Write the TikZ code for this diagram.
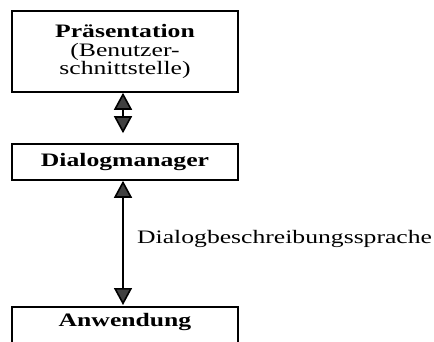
\documentclass[tikz,border=0pt]{standalone}
\usepackage{fontspec}
\setmainfont[FakeStretch=1.35]{Liberation Serif}
\usetikzlibrary{arrows.meta}
\tikzset{
  layer/.style={draw=black, line width=1.6pt, minimum width=226pt, align=center,
    font=\fontsize{19}{18.5}\selectfont},
  conn/.style={line width=1.6pt,
    {Triangle[length=17pt,width=18pt,fill=black!75]}-{Triangle[length=17pt,width=18pt,fill=black!75]}},
  lbl/.style={font=\fontsize{19}{18.5}\selectfont, anchor=west, inner sep=0pt}
}
\begin{document}
\begin{tikzpicture}[x=1pt,y=-1pt]
  \useasboundingbox (0,0) rectangle (434,342);
  \clip (0,0) rectangle (434,342);
  % layers of the architecture
  \node[layer, minimum height=81pt] (pres) at (125,51.5)
    {\textbf{Präsentation}\\(Benutzer-\\schnittstelle)};
  \node[layer, minimum height=36pt, text height=13pt, text depth=4pt] (dm) at (125,162)
    {\textbf{Dialogmanager}};
  \node[layer, anchor=north, inner sep=6pt, text height=14pt, text depth=32pt] (app) at (125,306)
    {\textbf{Anwendung}};
  % connectors
  \coordinate (ax) at (123,0);
  \draw[conn, shorten >=10pt] (ax |- pres.south) -- (ax |- dm.north);
  \draw[conn, shorten >=1pt] (ax |- dm.south) -- (ax |- app.north);
  \node[lbl] (lang) at (137,239) {Dialogbeschreibungssprache};
\end{tikzpicture}
\end{document}
